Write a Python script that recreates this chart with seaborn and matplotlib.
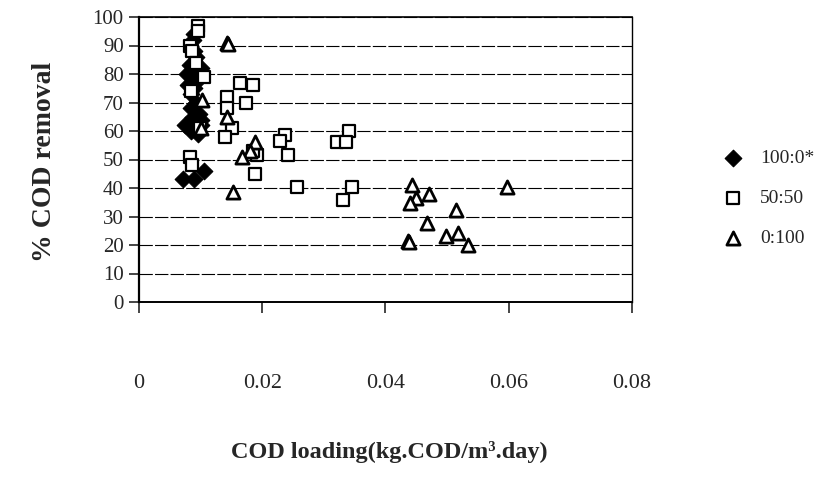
import numpy as np
import pandas as pd
import matplotlib
matplotlib.use("Agg")
import matplotlib.pyplot as plt
import seaborn as sns

# ---- data ----
d100_x = [0.0072, 0.0090, 0.0105, 0.0075, 0.0085, 0.0095, 0.0100, 0.0088, 0.0098,
          0.0085, 0.0092, 0.0100, 0.0080, 0.0090, 0.0078, 0.0085, 0.0095, 0.0100,
          0.0088, 0.0092, 0.0082, 0.0090, 0.0088, 0.0090, 0.0095, 0.0085]
d100_y = [43, 43, 46, 62, 60, 59, 62, 65, 66, 68, 70, 64, 76, 75, 80, 79, 78, 82,
          84, 86, 83, 88, 92, 94, 80, 73]

d50_x = [0.0095, 0.0095, 0.0083, 0.0086, 0.0105, 0.0085, 0.0099, 0.0083, 0.0086,
         0.0093, 0.0143, 0.0143, 0.0164, 0.0185, 0.0174, 0.0151, 0.0140, 0.0237,
         0.0229, 0.0242, 0.0192, 0.0189, 0.0256, 0.0341, 0.0321, 0.0336, 0.0346,
         0.0331, 0.0185]
d50_y = [97, 95, 90, 88, 79, 74, 61, 51, 48, 84, 72, 68, 77, 76, 70, 61, 58,
         58.6, 56.5, 51.6, 51.6, 45, 40.4, 60, 56, 56, 40.4, 35.8, 53]

d0_x = [0.0143, 0.0144, 0.0102, 0.0143, 0.0101, 0.0188, 0.0180, 0.0167, 0.0153,
        0.0443, 0.0470, 0.0450, 0.0440, 0.0597, 0.0515, 0.0467, 0.0437, 0.0438,
        0.0498, 0.0518, 0.0534]
d0_y = [91, 90.5, 71, 65, 61, 56, 53, 51, 38.6, 41, 38, 36.5, 34.7, 40.4, 32.3,
        27.7, 21.4, 21, 23.2, 24.2, 20]

series_labels = ["100:0*", "50:50", "0:100"]
x_ticks = [0, 0.02, 0.04, 0.06, 0.08]
x_ticklabels = ["0", "0.02", "0.04", "0.06", "0.08"]
y_ticks = list(range(0, 101, 10))

df = pd.concat([
    pd.DataFrame({"x": d100_x, "y": d100_y, "ratio": series_labels[0]}),
    pd.DataFrame({"x": d50_x, "y": d50_y, "ratio": series_labels[1]}),
    pd.DataFrame({"x": d0_x, "y": d0_y, "ratio": series_labels[2]}),
], ignore_index=True)

sns.set_style("white")
plt.rcParams["font.family"] = ["Liberation Serif", "DejaVu Serif"]

fig = plt.figure(figsize=(8.16, 4.93), dpi=100)
ax = fig.add_axes([139 / 816, 1 - 302 / 493, (632 - 139) / 816, (302 - 17) / 493])

styles = {
    "100:0*": dict(marker="D", s=72, color="black", edgecolor="black", linewidth=0.8),
    "50:50": dict(marker="s", s=70, color="white", edgecolor="black", linewidth=1.6),
    "0:100": dict(marker="^", s=90, color="white", edgecolor="black", linewidth=2.0),
}
for lab in series_labels:
    sub = df[df["ratio"] == lab]
    sns.scatterplot(data=sub, x="x", y="y", ax=ax, label=lab, zorder=3, **styles[lab])

ax.set_xlim(0, 0.08)
ax.set_ylim(0, 100)
ax.set_xticks(x_ticks)
ax.set_xticklabels(x_ticklabels)
ax.set_yticks(y_ticks)
ax.yaxis.grid(True, color="black", linewidth=0.8, linestyle=(0, (12, 2)))
ax.xaxis.grid(False)
for sp in ax.spines.values():
    sp.set_visible(True)
    sp.set_color("black")
ax.spines["left"].set_linewidth(1.6)
ax.spines["bottom"].set_linewidth(1.4)
ax.spines["top"].set_linewidth(1.2)
ax.spines["right"].set_linewidth(1.0)
ax.tick_params(axis="y", direction="out", length=7, width=1.2, labelsize=15, pad=4, left=True)
ax.tick_params(axis="x", direction="out", length=8, width=1.2, labelsize=16, pad=44, bottom=True)

ax.set_xlabel("")
ax.set_ylabel("")
fig.text(389 / 816, 1 - 452 / 493, "COD loading(kg.COD/m³.day)", ha="center", va="center",
         fontsize=17.5, fontweight="bold")
fig.text(45 / 816, 1 - 162 / 493, "% COD removal", ha="center", va="center",
         rotation=90, fontsize=20, fontweight="bold")

handles, labels = ax.get_legend_handles_labels()
leg = ax.legend(handles, labels, loc="center left", bbox_to_anchor=(1.13, 0.365),
                frameon=False, fontsize=14, labelspacing=1.15, handletextpad=0.4,
                markerscale=1.0)

fig.savefig("out.png", dpi=100)
